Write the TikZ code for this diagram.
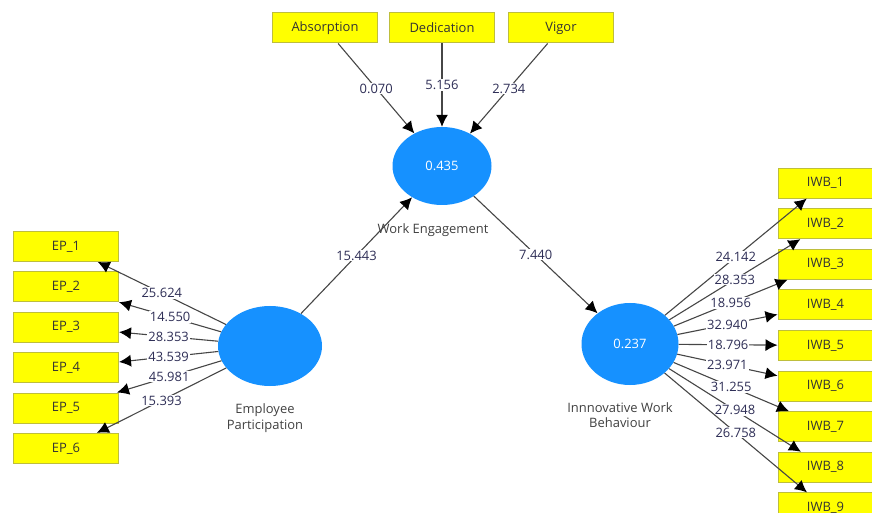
\documentclass[tikz,border=0pt]{standalone}
\usepackage{fontspec}
\setmainfont{Open Sans}
\usepackage{tikz}
\usetikzlibrary{arrows.meta,shapes,positioning}

\definecolor{lvblue}{RGB}{22,145,255}
\definecolor{mvyellow}{RGB}{255,255,0}
\definecolor{mvborder}{RGB}{190,190,60}
\definecolor{linkgray}{RGB}{70,70,70}
\definecolor{coefnavy}{RGB}{45,45,85}

\begin{document}
\begin{tikzpicture}[x=1bp, y=-1bp, font=\fontsize{13}{15.5}\selectfont,
	latent/.style={ellipse, fill=lvblue, text=white, inner sep=0pt, minimum width=99bp, minimum height=78bp},
	item/.style={rectangle, draw=mvborder, line width=1bp, fill=mvyellow, text=black!80, inner sep=0pt, minimum width=105bp, minimum height=30bp},
	link/.style={draw=linkgray, line width=1.1bp, -{Latex[length=12bp, width=12bp, color=black]}},
	coef/.style={fill=white, text=coefnavy, inner sep=1bp},
	lvname/.style={text=black!75, align=center}]
	\useasboundingbox (0,0) rectangle (872,513);
	\clip (0,0) rectangle (872,513);

	% latent variables
	\node (WE) [latent] at (442,166) {0.435};
	\node (EP) [latent, minimum width=104bp, minimum height=80bp] at (270,346) {};
	\node (IWB) [latent, minimum width=97bp, minimum height=82bp] at (630,344) {0.237};
	\node (WEname) [lvname] at (433,230) {Work Engagement};
	\node (EPname) [lvname] at (265,418) {Employee\\Participation};
	\node (IWBname) [lvname] at (620,415) {Innnovative Work\\Behaviour};

	% indicators
	\node (Abs) [item] at (325,28) {Absorption};
	\node (Ded) [item] at (442,28) {Dedication};
	\node (Vig) [item] at (561,28) {Vigor};
	\foreach \x in {1,...,6} {
		\node ({EP\x}) [item] at (66, 206+40.4*\x) {EP\_\x};
	}
	\foreach \x in {1,...,9} {
		\node ({IWB\x}) [item, minimum width=95bp] at (825.5, 142.5+40.6*\x) {IWB\_\x};
	}

	% paths
	\draw [link] (Abs) -- node [coef] {0.070} (WE);
	\draw [link] (Ded) -- node [coef] {5.156} (WE);
	\draw [link] (Vig) -- node [coef] {2.734} (WE);
	\draw [link] (EP) -- node [coef] {15.443} (WE);
	\draw [link] (WE) -- node [coef] {7.440} (IWB);
	\foreach \x/\val in {1/25.624, 2/14.550, 3/28.353, 4/43.539, 5/45.981, 6/15.393} {
		\draw [link] (EP) -- node [coef] {\val} ({EP\x});
	}
	\foreach \x/\val in {1/24.142, 2/28.353, 3/18.956, 4/32.940, 5/18.796, 6/23.971, 7/31.255, 8/27.948, 9/26.758} {
		\draw [link] (IWB) -- node [coef] {\val} ({IWB\x});
	}
\end{tikzpicture}
\end{document}
